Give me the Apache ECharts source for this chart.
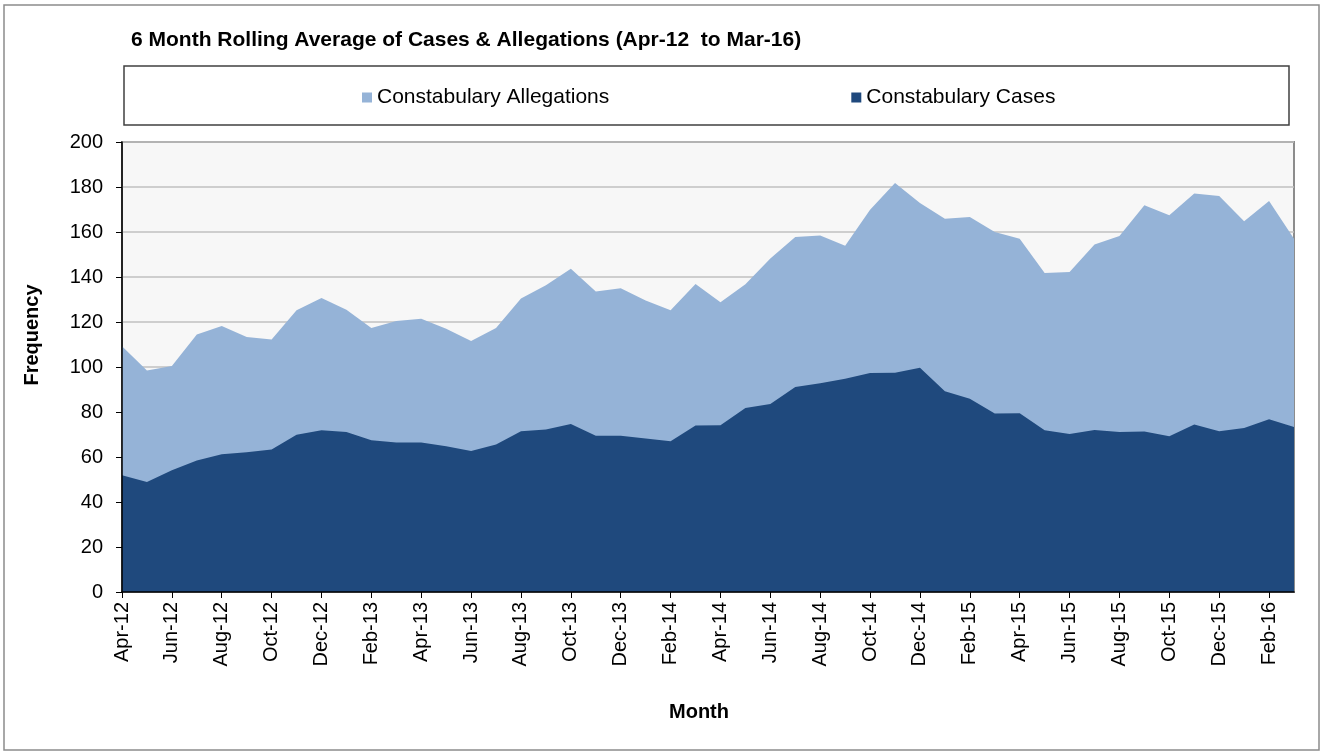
<!DOCTYPE html>
<html>
<head>
<meta charset="utf-8">
<script src="https://cdn.jsdelivr.net/npm/echarts@6/dist/echarts.min.js"></script>
<style>
	html,body{margin:0;padding:0;background:#fff;}
	#chart{width:1326px;height:751px;}
</style>
</head>
<body>
<div id="chart"></div>
<script>
var months = ['Apr-12','May-12','Jun-12','Jul-12','Aug-12','Sep-12','Oct-12','Nov-12','Dec-12','Jan-13','Feb-13','Mar-13',
	'Apr-13','May-13','Jun-13','Jul-13','Aug-13','Sep-13','Oct-13','Nov-13','Dec-13','Jan-14','Feb-14','Mar-14',
	'Apr-14','May-14','Jun-14','Jul-14','Aug-14','Sep-14','Oct-14','Nov-14','Dec-14','Jan-15','Feb-15','Mar-15',
	'Apr-15','May-15','Jun-15','Jul-15','Aug-15','Sep-15','Oct-15','Nov-15','Dec-15','Jan-16','Feb-16','Mar-16'];

// 6 month rolling averages
var allegations = [109.2,98.5,100.5,114.4,118.2,113.3,112.2,125.2,130.7,125.5,117.3,120.4,
	121.5,117.0,111.6,117.3,130.4,136.3,143.7,133.6,135.0,129.6,125.2,136.9,
	128.8,136.8,148.2,157.8,158.5,153.9,169.9,181.8,172.9,165.9,166.7,160.0,
	157.0,141.8,142.2,154.4,158.2,171.9,167.4,177.1,176.0,164.8,173.8,157.0];
var cases = [51.9,48.9,54.1,58.5,61.2,62.1,63.3,69.9,71.9,71.1,67.4,66.4,
	66.4,64.8,62.7,65.6,71.4,72.2,74.7,69.5,69.5,68.2,67.0,74.0,
	74.1,81.8,83.6,91.1,92.8,94.8,97.3,97.5,99.7,89.2,85.9,79.3,
	79.4,71.9,70.2,72.0,71.1,71.3,69.2,74.5,71.4,72.9,76.8,73.3];

var font = "'Liberation Sans', Arial, sans-serif";

var myChart = echarts.init(document.getElementById('chart'));
var option = {
	animation: false,
	title: {
		text: '6 Month Rolling Average of Cases & Allegations (Apr-12  to Mar-16)',
		left: 126, top: 25,
		textStyle: {fontFamily: font, fontSize: 21, fontWeight: 'bold', color: '#000'}
	},
	graphic: [
		{type: 'rect', shape: {x: 4, y: 5, width: 1315, height: 745}, style: {fill: 'none', stroke: '#8c8c8c', lineWidth: 1.5}, silent: true},
		{type: 'rect', shape: {x: 124, y: 66, width: 1165, height: 59}, style: {fill: 'none', stroke: '#404040', lineWidth: 1.5}, silent: true}
	],
	legend: {
		left: 357, top: 82,
		itemGap: 242, itemWidth: 10, itemHeight: 10,
		icon: 'rect',
		textStyle: {fontFamily: font, fontSize: 21, color: '#000'},
		data: ['Constabulary Allegations', 'Constabulary Cases']
	},
	grid: {
		left: 122, right: 32, top: 142, bottom: 159,
		show: true, backgroundColor: '#f7f7f7', borderColor: '#8c8c8c', borderWidth: 2
	},
	xAxis: {
		type: 'category',
		data: months,
		boundaryGap: false,
		z: 3,
		name: 'Month',
		nameLocation: 'middle',
		nameGap: 110,
		nameTextStyle: {fontFamily: font, fontSize: 20, fontWeight: 'bold', color: '#000', padding: [0, 18, 0, 0]},
		axisLine: {lineStyle: {color: '#000', width: 1.5}},
		axisTick: {interval: 1, length: 6, lineStyle: {color: '#000'}},
		axisLabel: {interval: 1, rotate: 90, margin: 10, fontFamily: font, fontSize: 20, color: '#000'},
		splitLine: {show: false}
	},
	yAxis: {
		type: 'value',
		min: 0, max: 200, interval: 20,
		z: 3,
		name: 'Frequency',
		nameLocation: 'middle',
		nameGap: 80,
		nameTextStyle: {fontFamily: font, fontSize: 20, fontWeight: 'bold', color: '#000', padding: [0, 0, 0, 64]},
		axisLine: {show: true, lineStyle: {color: '#000', width: 1.5}},
		axisTick: {show: true, length: 6, lineStyle: {color: '#000'}},
		axisLabel: {margin: 19, fontFamily: font, fontSize: 20, color: '#000'},
		splitLine: {lineStyle: {color: '#c0c0c0', width: 1.5}}
	},
	series: [
		{
			name: 'Constabulary Allegations',
			type: 'line',
			data: allegations,
			symbol: 'none',
			lineStyle: {width: 0},
			itemStyle: {color: '#95b3d7'},
			areaStyle: {color: '#95b3d7', opacity: 1}
		},
		{
			name: 'Constabulary Cases',
			type: 'line',
			data: cases,
			symbol: 'none',
			lineStyle: {width: 0},
			itemStyle: {color: '#1f497d'},
			areaStyle: {color: '#1f497d', opacity: 1}
		}
	]
};
myChart.setOption(option);
</script>
</body>
</html>
